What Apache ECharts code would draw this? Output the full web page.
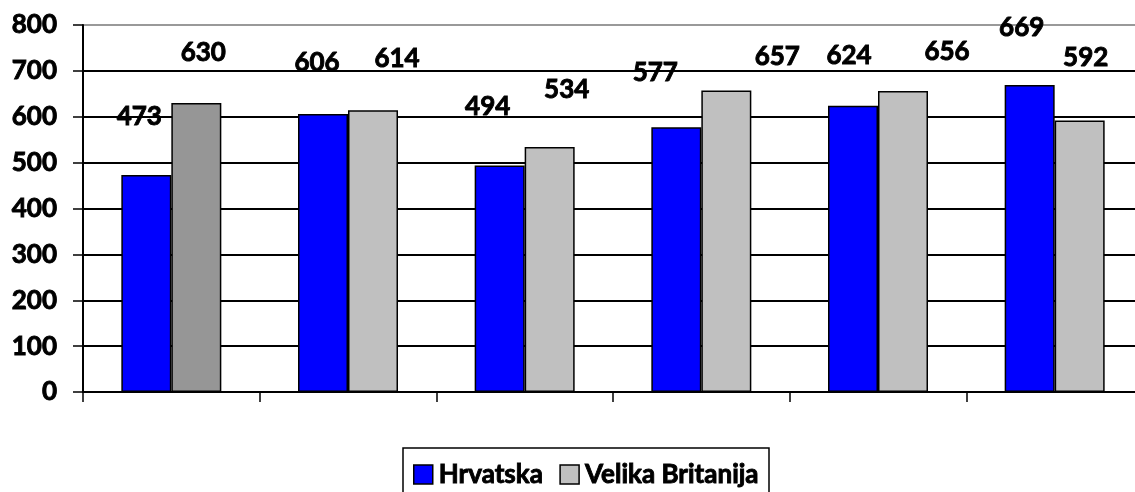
<!DOCTYPE html>
<html>
<head>
<meta charset="utf-8">
<script src="https://cdn.jsdelivr.net/npm/echarts@6/dist/echarts.min.js"></script>
<style>
html,body{margin:0;padding:0;background:#fff;}
#chart{width:1135px;height:492px;}
</style>
</head>
<body>
<div id="chart"></div>
<script>
const categories = ['1', '2', '3', '4', '5', '6'];
const seriesNames = ['Hrvatska', 'Velika Britanija'];
const hrvatska = [473, 606, 494, 577, 624, 669];
const velikaBritanija = [630, 614, 534, 657, 656, 592];
const yTicks = [0, 100, 200, 300, 400, 500, 600, 700, 800];

// label placement (as in the original, labels are manually shifted)
const offH = [[-7, -58], [-6, -51], [-12, -59], [-21, -55], [-4, -50], [-8, -57]];
const offV = [[7, -50], [24, -52], [17, -57], [51, -34], [44, -39], [6, -63]];

const FONT = 'Lato, "Open Sans", sans-serif';
const WEIGHT = 'bold';
const STROKE = { textBorderColor: '#000', textBorderWidth: 0.9 };

function build(values, offs, special) {
  return values.map((v, i) => {
    const d = { value: v, label: { offset: offs[i] } };
    if (special && special[i]) d.itemStyle = { color: special[i] };
    return d;
  });
}

const labelCfg = Object.assign({
  show: true,
  position: 'top',
  distance: 0,
  verticalAlign: 'middle',
  align: 'center',
  color: '#000',
  fontFamily: FONT,
  fontWeight: WEIGHT,
  fontSize: 26
}, STROKE);

const chart = echarts.init(document.getElementById('chart'), null, { renderer: 'canvas' });
chart.setOption({
  animation: false,
  backgroundColor: '#fff',
  grid: { left: 83, top: 25, width: 1060, height: 367, outerBoundsMode: 'none', containLabel: false },
  legend: {
    data: seriesNames,
    left: 403,
    top: 448,
    orient: 'horizontal',
    backgroundColor: '#fff',
    borderColor: '#000',
    borderWidth: 1.5,
    borderRadius: 0,
    padding: [13, 10, 14, 10],
    itemGap: 16,
    itemWidth: 19,
    itemHeight: 19,
    icon: 'rect',
    textStyle: Object.assign({ color: '#000', fontFamily: FONT, fontWeight: WEIGHT, fontSize: 26, padding: [0, 0, 0, 1] }, STROKE),
    itemStyle: { borderColor: '#000', borderWidth: 1.5 }
  },
  xAxis: {
    type: 'category',
    data: categories,
    axisLine: { show: true, lineStyle: { color: '#000', width: 2 } },
    axisTick: { show: true, length: 10, lineStyle: { color: '#000', width: 1.5 } },
    axisLabel: { show: false },
    splitLine: { show: false }
  },
  yAxis: {
    type: 'value',
    min: yTicks[0],
    max: yTicks[yTicks.length - 1],
    interval: 100,
    axisLine: { show: true, lineStyle: { color: '#000', width: 2 } },
    axisTick: { show: true, length: 10, lineStyle: { color: '#000', width: 1.5 } },
    axisLabel: Object.assign({ color: '#000', fontFamily: FONT, fontWeight: WEIGHT, fontSize: 26, margin: 26 }, STROKE),
    splitLine: {
      show: true,
      lineStyle: { color: ['#000', '#000', '#000', '#000', '#000', '#000', '#000', '#000', '#999'], width: 1.8 }
    }
  },
  series: [
    {
      name: seriesNames[0],
      type: 'bar',
      barWidth: 50,
      barGap: '0%',
      itemStyle: { color: '#0000ff', borderColor: '#000', borderWidth: 1.5 },
      label: labelCfg,
      data: build(hrvatska, offH)
    },
    {
      name: seriesNames[1],
      type: 'bar',
      barWidth: 50,
      barGap: '0%',
      itemStyle: { color: '#c0c0c0', borderColor: '#000', borderWidth: 1.5 },
      label: labelCfg,
      data: build(velikaBritanija, offV, ['#969696'])
    }
  ]
});
</script>
</body>
</html>
